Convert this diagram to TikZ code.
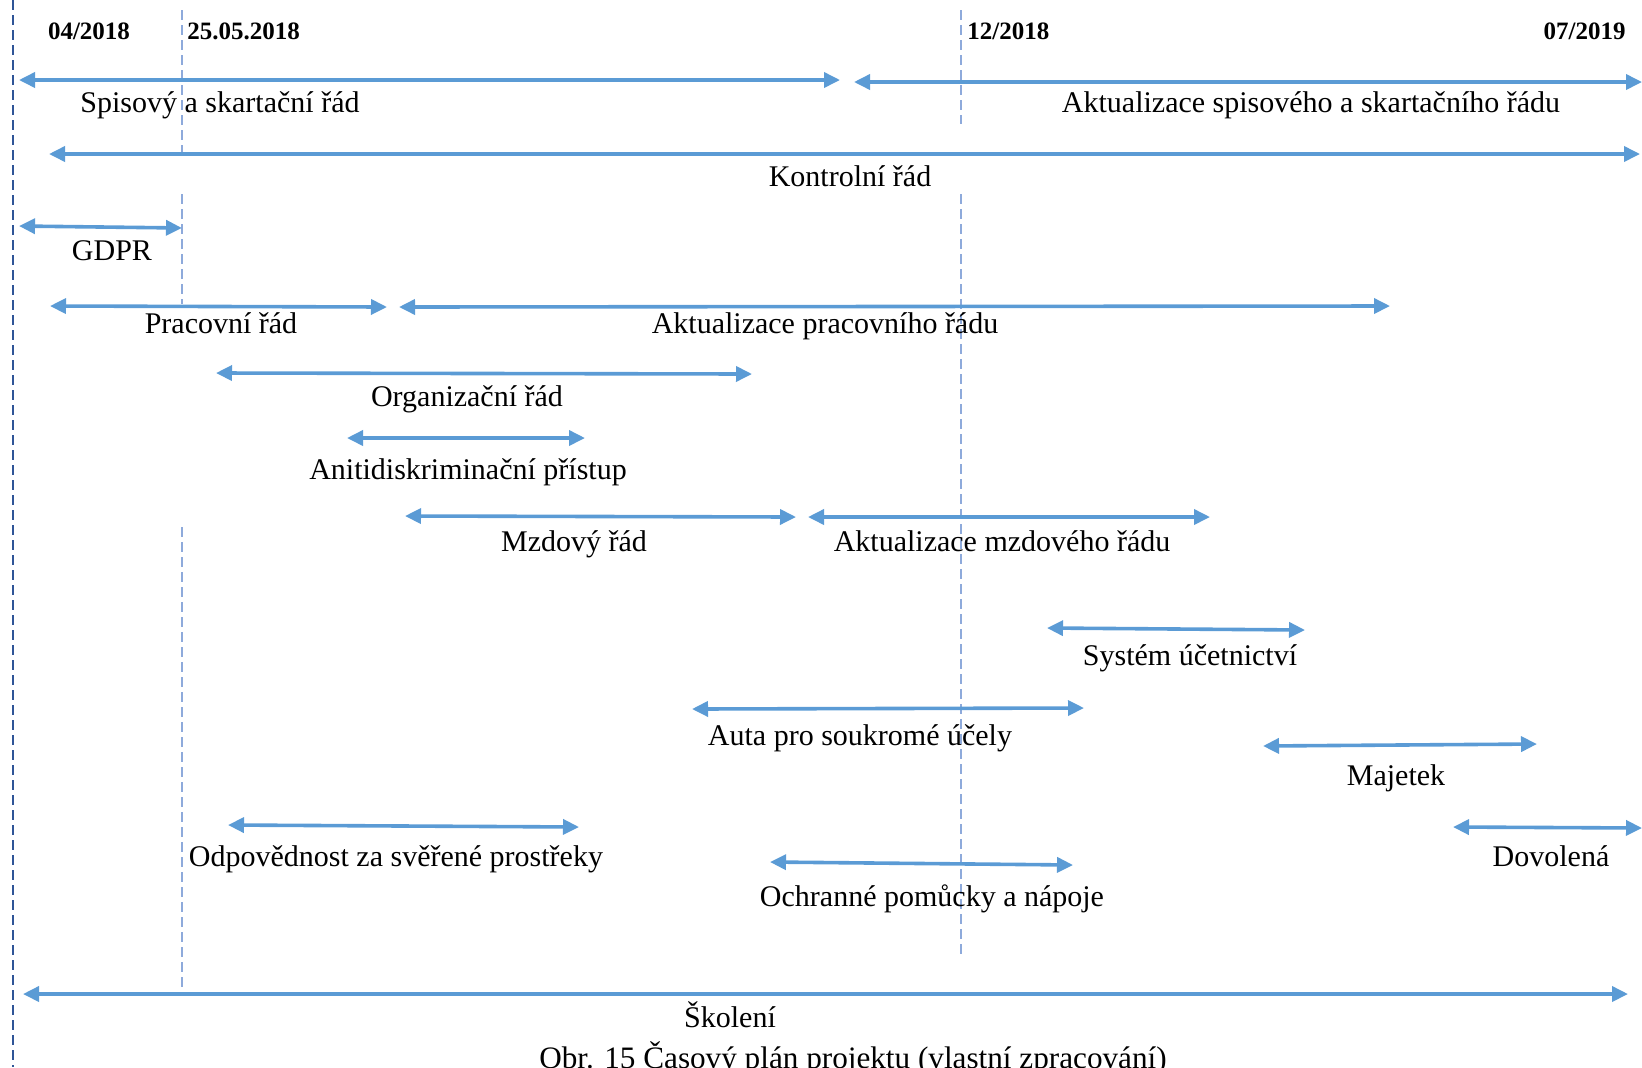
\documentclass[tikz,border=0pt]{standalone}
\usepackage{fontspec}
\setmainfont{Liberation Serif}
\usetikzlibrary{arrows.meta, positioning}
\definecolor{spanblue}{HTML}{5B9BD5}
\definecolor{edgeblue}{HTML}{2F5597}
\definecolor{guideblue}{HTML}{8EAADB}

\begin{document}
\begin{tikzpicture}[x=0.5pt, y=-0.5pt, >={Triangle[length=8pt,width=7.5pt]},
    span/.style={<->, draw=spanblue, line width=1.8pt},
    lbl/.style={anchor=base, font=\fontsize{15}{18}\selectfont, inner sep=0pt},
    datum/.style={anchor=base, font=\fontsize{12.5}{15}\selectfont\bfseries, inner sep=0pt},
    guide/.style={draw=guideblue, line width=0.7pt, dash pattern=on 5pt off 2.5pt}]
    \useasboundingbox (0,0) rectangle (1642,1067);
    \clip (0,0) rectangle (1642,1067);

    % milestones
    \node[datum] (d1) at (89,39) {04/2018};
    \node[datum, anchor=base west] (d2) at (187,39) {25.05.2018};
    \node[datum, anchor=base west] (d3) at (967,39) {12/2018};
    \node[datum, anchor=base east] (d4) at (1626,39) {07/2019};

    % guide lines
    \coordinate (g0a) at (13,0);    \coordinate (g0b) at (13,1067);
    \coordinate (g1a) at (182,10);  \coordinate (g1b) at (182,157);
    \coordinate (g1c) at (182,194); \coordinate (g1d) at (182,304);
    \coordinate (g1e) at (182,527); \coordinate (g1f) at (182,995);
    \coordinate (g2a) at (961,10);  \coordinate (g2b) at (961,124);
    \coordinate (g2c) at (961,194); \coordinate (g2d) at (961,958);
    \draw[draw=edgeblue, line width=1pt, dash pattern=on 5pt off 2.5pt] (g0a) -- (g0b);
    \draw[guide] (g1a) -- (g1b) (g1c) -- (g1d) (g1e) -- (g1f);
    \draw[guide] (g2a) -- (g2b) (g2c) -- (g2d);

    % task ends
    \coordinate (spisA) at (19,80);    \coordinate (spisB) at (840,80);
    \coordinate (aspisA) at (854,82);  \coordinate (aspisB) at (1642,82);
    \coordinate (kontA) at (49,154);   \coordinate (kontB) at (1640,154);
    \coordinate (gdprA) at (19,226);   \coordinate (gdprB) at (182,228);
    \coordinate (pracA) at (50,306);   \coordinate (pracB) at (387,307);
    \coordinate (aprA) at (399,307);   \coordinate (aprB) at (1390,306);
    \coordinate (orgA) at (216,373);   \coordinate (orgB) at (752,374);
    \coordinate (antiA) at (347,438);  \coordinate (antiB) at (585,438);
    \coordinate (mzdA) at (405,516);   \coordinate (mzdB) at (796,517);
    \coordinate (amzdA) at (808,517);  \coordinate (amzdB) at (1210,517);
    \coordinate (sysA) at (1047,628);  \coordinate (sysB) at (1305,630);
    \coordinate (autaA) at (692,709);  \coordinate (autaB) at (1084,708);
    \coordinate (majA) at (1263,746);  \coordinate (majB) at (1537,744);
    \coordinate (odpA) at (228,825);   \coordinate (odpB) at (579,827);
    \coordinate (dovA) at (1453,827);  \coordinate (dovB) at (1642,828);
    \coordinate (ochA) at (770,862);   \coordinate (ochB) at (1073,865);
    \coordinate (skolA) at (23,994);   \coordinate (skolB) at (1628,994);

    % task labels
    \node[lbl] (spis) at (220,112) {Spisový a skartační řád};
    \node[lbl] (aspis) at (1311,112) {Aktualizace spisového a skartačního řádu};
    \node[lbl] (kont) at (850,186) {Kontrolní řád};
    \node[lbl] (gdpr) at (112,260) {GDPR};
    \node[lbl] (prac) at (221,333) {Pracovní řád};
    \node[lbl] (apr) at (825,333) {Aktualizace pracovního řádu};
    \node[lbl] (org) at (467,406) {Organizační řád};
    \node[lbl] (anti) at (468,479) {Anitidiskriminační přístup};
    \node[lbl] (mzd) at (574,551) {Mzdový řád};
    \node[lbl] (amzd) at (1002,551) {Aktualizace mzdového řádu};
    \node[lbl] (sys) at (1190,665) {Systém účetnictví};
    \node[lbl] (auta) at (860,745) {Auta pro soukromé účely};
    \node[lbl] (maj) at (1396,785) {Majetek};
    \node[lbl] (odp) at (396,866) {Odpovědnost za svěřené prostřeky};
    \node[lbl] (dov) at (1551,866) {Dovolená};
    \node[lbl] (och) at (932,906) {Ochranné pomůcky a nápoje};
    \node[lbl] (skol) at (730,1027) {Školení};
    \node[lbl, font=\fontsize{15.6}{18}\selectfont] (obr) at (853,1068) {Obr. 15 Časový plán projektu (vlastní zpracování)};

    \path[every edge/.style={span}]
        (spisA) edge (spisB)
        (aspisA) edge (aspisB)
        (kontA) edge (kontB)
        (gdprA) edge (gdprB)
        (pracA) edge (pracB)
        (aprA) edge (aprB)
        (orgA) edge (orgB)
        (antiA) edge (antiB)
        (mzdA) edge (mzdB)
        (amzdA) edge (amzdB)
        (sysA) edge (sysB)
        (autaA) edge (autaB)
        (majA) edge (majB)
        (odpA) edge (odpB)
        (dovA) edge (dovB)
        (ochA) edge (ochB)
        (skolA) edge (skolB);
\end{tikzpicture}
\end{document}
